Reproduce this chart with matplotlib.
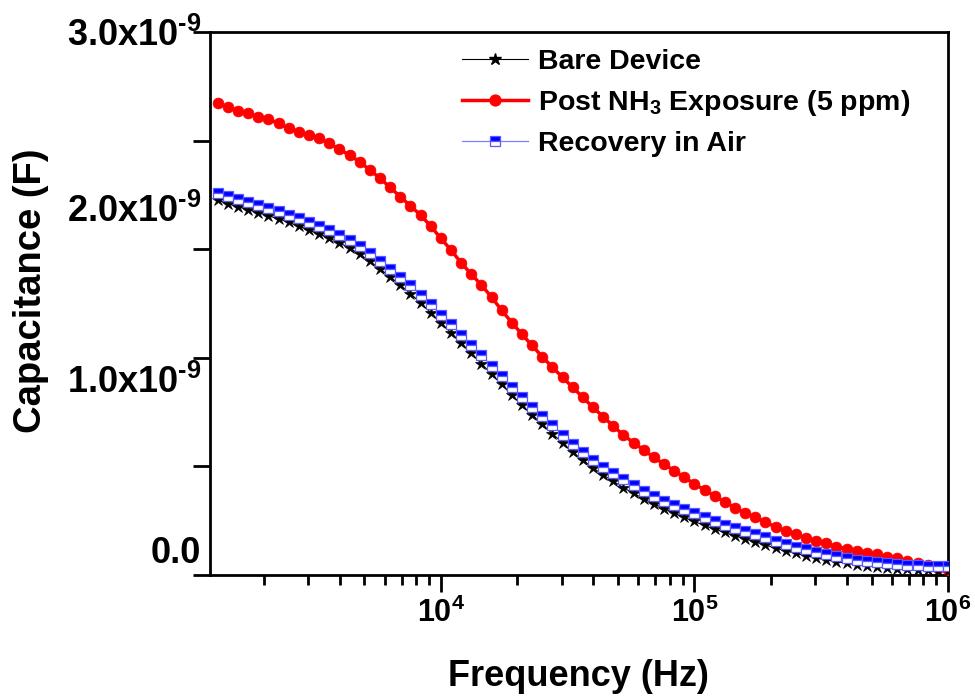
import matplotlib
matplotlib.use("Agg")
import matplotlib.pyplot as plt
from matplotlib.lines import Line2D
from matplotlib.ticker import FixedLocator, NullFormatter, LogLocator

plt.rcParams['font.family'] = ['Liberation Sans', 'DejaVu Sans']
plt.rcParams['font.weight'] = 'bold'
plt.rcParams['mathtext.fontset'] = 'custom'
plt.rcParams['mathtext.rm'] = 'Liberation Sans:bold'
plt.rcParams['mathtext.bf'] = 'Liberation Sans:bold'
plt.rcParams['mathtext.it'] = 'Liberation Sans:bold'

# Sweep frequencies (Hz), 25 points per decade
freq = [1318, 1445, 1585, 1738, 1905, 2089, 2291, 2512, 2754, 3020,
        3311, 3631, 3981, 4365, 4786, 5248, 5754, 6310, 6918, 7586,
        8318, 9120, 10000, 10965, 12023, 13183, 14454, 15849, 17378, 19055,
        20893, 22909, 25119, 27542, 30200, 33113, 36308, 39811, 43652, 47863,
        52481, 57544, 63096, 69183, 75858, 83176, 91201, 100000, 109648, 120226,
        131826, 144544, 158489, 173780, 190546, 208930, 229087, 251189, 275423, 301995,
        331131, 363078, 398107, 436516, 478630, 524807, 575440, 630957, 691831, 758578,
        831764, 912011, 1000000]

# Capacitance in nF
bare = [2.072, 2.052, 2.035, 2.019, 2.002, 1.985, 1.968, 1.949, 1.928, 1.906,
        1.884, 1.862, 1.836, 1.806, 1.772, 1.733, 1.692, 1.648, 1.602, 1.555,
        1.504, 1.450, 1.394, 1.339, 1.283, 1.226, 1.168, 1.110, 1.053, 0.995,
        0.939, 0.885, 0.833, 0.781, 0.730, 0.680, 0.634, 0.592, 0.553, 0.517,
        0.483, 0.451, 0.421, 0.393, 0.367, 0.342, 0.318, 0.296, 0.274, 0.254,
        0.235, 0.217, 0.200, 0.183, 0.166, 0.148, 0.133, 0.119, 0.106, 0.094,
        0.083, 0.074, 0.065, 0.057, 0.050, 0.044, 0.039, 0.035, 0.031, 0.028,
        0.026, 0.024, 0.022]

nh3 = [2.606, 2.587, 2.565, 2.554, 2.529, 2.518, 2.495, 2.468, 2.449, 2.431,
       2.413, 2.385, 2.352, 2.320, 2.283, 2.238, 2.192, 2.142, 2.090, 2.040,
       1.989, 1.928, 1.860, 1.796, 1.725, 1.663, 1.602, 1.536, 1.462, 1.395,
       1.330, 1.268, 1.206, 1.148, 1.092, 1.037, 0.982, 0.926, 0.875, 0.823,
       0.773, 0.731, 0.691, 0.650, 0.613, 0.576, 0.540, 0.503, 0.470, 0.436,
       0.403, 0.372, 0.343, 0.318, 0.292, 0.266, 0.243, 0.225, 0.203, 0.188,
       0.175, 0.156, 0.145, 0.134, 0.123, 0.114, 0.101, 0.092, 0.079, 0.068,
       0.054, 0.038, 0.025]

recovery = [2.112, 2.092, 2.076, 2.060, 2.043, 2.027, 2.010, 1.991, 1.971, 1.949,
            1.927, 1.905, 1.880, 1.850, 1.816, 1.777, 1.737, 1.693, 1.647, 1.600,
            1.549, 1.495, 1.439, 1.384, 1.328, 1.271, 1.213, 1.155, 1.098, 1.040,
            0.984, 0.930, 0.878, 0.826, 0.775, 0.725, 0.679, 0.637, 0.598, 0.562,
            0.528, 0.496, 0.466, 0.437, 0.411, 0.386, 0.362, 0.340, 0.318, 0.297,
            0.278, 0.260, 0.243, 0.226, 0.208, 0.190, 0.171, 0.156, 0.142, 0.129,
            0.116, 0.105, 0.094, 0.085, 0.077, 0.070, 0.065, 0.061, 0.057, 0.054,
            0.051, 0.050, 0.049]

labels = ["Bare Device", r"Post NH$_\mathbf{3}$ Exposure (5 ppm)", "Recovery in Air"]
HY = "\u2010"  # short hyphen for the exponent sign
ytick_text = ["3.0x10$^{" + HY + "9}$", "2.0x10$^{" + HY + "9}$",
              "1.0x10$^{" + HY + "9}$", "0.0"]
ytick_pos = [2.925, 1.950, 1.006, 0.066]   # nF, baseline of each label
xtick_vals = [1e4, 1e5, 1e6]
xtick_text = [r"10$^{\mathbf{4}}$", r"10$^{\mathbf{5}}$", r"10$^{\mathbf{6}}$"]

nF = 1e-9
fig = plt.figure(figsize=(9.75, 6.96), dpi=100)
ax = fig.add_axes([210 / 975, 1 - 575 / 696, 738 / 975, 543 / 696])

ax.plot(freq, [v * nF for v in nh3], color='red', lw=2.5, marker='o', ms=7.8,
        mfc='red', mec='red', mew=0.5, zorder=3)
ax.plot(freq, [v * nF for v in bare], color='black', lw=0.8, marker='*', ms=9,
        mfc='black', mec='black', mew=0.5, zorder=4)
ax.plot(freq, [v * nF for v in recovery], color='#8080ff', lw=0.9, marker='s', ms=7,
        fillstyle='top', mfc='#0000ff', mfcalt='white', mec='#5a5aff', mew=0.9, zorder=5)

ax.set_xscale('log')
ax.set_xlim(1230, 1e6)
ax.set_ylim(0, 3e-9)

for s in ax.spines.values():
    s.set_linewidth(2.0)

ax.xaxis.set_major_locator(FixedLocator(xtick_vals))
ax.set_xticklabels(xtick_text, fontsize=22, fontweight='bold')
ax.xaxis.set_minor_locator(LogLocator(base=10, subs=range(2, 10), numticks=20))
ax.xaxis.set_minor_formatter(NullFormatter())
ax.tick_params(axis='x', which='major', length=12, width=2.0, pad=4, direction='out')
ax.tick_params(axis='x', which='minor', length=7, width=2.0, direction='out')

ax.set_yticks([k * 0.6 * nF for k in range(6)])
ax.set_yticklabels([])
ax.tick_params(axis='y', which='major', length=12, width=2.0, direction='out')
ax.tick_params(axis='y', which='minor', left=False)

for txt, v in zip(ytick_text, ytick_pos):
    ax.text(-0.012, v * nF, txt, transform=ax.get_yaxis_transform(),
            ha='right', va='baseline', fontsize=26, fontweight='bold')

fig.text(578 / 975, 1 - 676 / 696, "Frequency (Hz)", ha='center', va='center',
         fontsize=26, fontweight='bold')
fig.text(31 / 975, 1 - 291 / 696, "Capacitance (F)", ha='center', va='center',
         rotation=90, fontsize=27.5, fontweight='bold')

handles = [
    Line2D([], [], color='black', lw=0.8, marker='*', ms=9, mfc='black', mec='black'),
    Line2D([], [], color='red', lw=2.5, marker='o', ms=7.8, mfc='red', mec='red'),
    Line2D([], [], color='#8080ff', lw=0.9, marker='s', ms=7, fillstyle='top',
           mfc='#0000ff', mfcalt='white', mec='#5a5aff', mew=0.9),
]
ax.legend(handles, labels, loc='upper left', bbox_to_anchor=(0.315, 1.005),
          frameon=False, numpoints=1, handlelength=2.3,
          handletextpad=0.35, labelspacing=0.45, borderaxespad=0.3,
          prop={'weight': 'bold', 'size': 20.5})

fig.savefig("out.png", dpi=100)
